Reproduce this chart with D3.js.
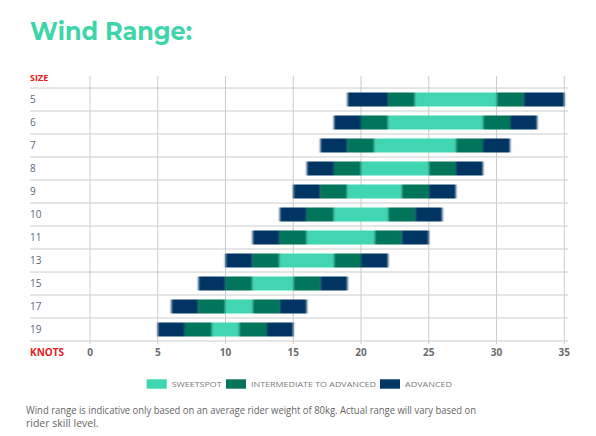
<!DOCTYPE html>
<html><head><meta charset="utf-8">
<script src="https://cdn.jsdelivr.net/npm/d3@7"></script>
<style>
body{margin:0;background:#fff;}
svg{display:block;font-family:"Open Sans",sans-serif;}
</style></head>
<body>
<svg id="c" width="596" height="436"></svg>
<script>
const sizes = ["5","6","7","8","9","10","11","13","15","17","19"];
// knot boundaries: advanced start, intermediate start, sweetspot start, sweetspot end, intermediate end, advanced end
const advStart  = [19,18,17,16,15,14,12,10, 8, 6, 5];
const intStart  = [22,20,19,18,17,16,14,12,10, 8, 7];
const sweetStart= [24,22,21,20,19,18,16,14,12,10, 9];
const sweetEnd  = [30,29,27,25,23,22,21,18,15,12,11];
const intEnd    = [32,31,29,27,25,24,23,20,17,14,13];
const advEnd    = [35,33,31,29,27,26,25,22,19,16,15];
const xTicks = [0,5,10,15,20,25,30,35];
const seriesNames = ["SWEETSPOT","INTERMEDIATE TO ADVANCED","ADVANCED"];
const colors = {"SWEETSPOT":"#3fd6b1","INTERMEDIATE TO ADVANCED":"#02755a","ADVANCED":"#023663"};

const svg = d3.select("#c");
const x = d3.scaleLinear().domain([0,35]).range([90,564.3]);
const y = d3.scaleBand().domain(sizes).range([88,341]).padding(0);

// title
svg.append("text").attr("x",30).attr("y",40).text("Wind Range:")
  .attr("font-family","Montserrat, 'Open Sans', sans-serif").attr("font-weight",700)
  .attr("font-size",25).attr("fill","#3ed5a9").attr("textLength",162).attr("lengthAdjust","spacingAndGlyphs");

// grid
const g = svg.append("g");
g.selectAll("line.v").data(xTicks).join("line")
  .attr("x1",d=>x(d)).attr("x2",d=>x(d)).attr("y1",76).attr("y2",344)
  .attr("stroke","#cccccc").attr("stroke-width",1);
const hLines = [...sizes.map(s=>y(s)), 341];
g.selectAll("line.h").data(hLines).join("line")
  .attr("x1",30).attr("x2",568).attr("y1",d=>d).attr("y2",d=>d)
  .attr("stroke","#cccccc").attr("stroke-width",1);

// filter for soft edges
const defs = svg.append("defs");
defs.append("filter").attr("id","soft").attr("x","-5%").attr("y","-5%").attr("width","110%").attr("height","110%")
  .append("feGaussianBlur").attr("stdDeviation","0.9 0");

// segments
const segs = [];
sizes.forEach((s,i)=>{
  segs.push({s, a:advStart[i], b:intStart[i], k:"ADVANCED"});
  segs.push({s, a:intStart[i], b:sweetStart[i], k:"INTERMEDIATE TO ADVANCED"});
  segs.push({s, a:sweetStart[i], b:sweetEnd[i], k:"SWEETSPOT"});
  segs.push({s, a:sweetEnd[i], b:intEnd[i], k:"INTERMEDIATE TO ADVANCED"});
  segs.push({s, a:intEnd[i], b:advEnd[i], k:"ADVANCED"});
});
const bh = 14;
svg.append("g").attr("filter","url(#soft)").selectAll("rect").data(segs).join("rect")
  .attr("x",d=>x(d.a)).attr("width",d=>x(d.b)-x(d.a))
  .attr("y",d=>y(d.s)+y.bandwidth()/2-bh/2).attr("height",bh)
  .attr("fill",d=>colors[d.k]);

// row labels
svg.append("text").attr("x",30).attr("y",81).text("SIZE")
  .attr("font-size",9).attr("font-weight",700).attr("fill","#e3201b");
svg.selectAll("text.row").data(sizes).join("text").attr("class","row")
  .attr("x",30).attr("y",d=>y(d)+y.bandwidth()/2).attr("dy","0.35em")
  .attr("font-size",10).attr("fill","#5d6878").text(d=>d);

// x axis labels
svg.append("text").attr("x",30).attr("y",352).attr("dy","0.35em").text("KNOTS")
  .attr("font-size",10).attr("font-weight",700).attr("fill","#e3201b");
svg.selectAll("text.tick").data(xTicks).join("text").attr("class","tick")
  .attr("x",d=>x(d)).attr("y",352).attr("dy","0.35em").attr("text-anchor","middle")
  .attr("font-size",10).attr("font-weight",700).attr("fill","#6b6b6b").text(d=>d);

// legend
const legX = [146.7, 226, 380];
const legTextW = [50, 125, 47];
const legend = svg.append("g");
seriesNames.forEach((n,i)=>{
  legend.append("rect").attr("x",legX[i]).attr("y",379.3).attr("width",20).attr("height",9.4).attr("fill",colors[n]);
  legend.append("text").attr("x",legX[i]+25).attr("y",384).attr("dy","0.35em")
    .attr("font-size",8).attr("fill","#7a7a7a").attr("textLength",legTextW[i]).attr("lengthAdjust","spacingAndGlyphs").text(n);
});

// footnote
svg.append("text").attr("x",26).attr("y",410).attr("dy","0.35em").attr("font-size",10.5).attr("fill","#666")
  .attr("textLength",450).attr("lengthAdjust","spacingAndGlyphs")
  .text("Wind range is indicative only based on an average rider weight of 80kg. Actual range will vary based on");
svg.append("text").attr("x",26).attr("y",423).attr("dy","0.35em").attr("font-size",10.5).attr("fill","#666")
  .text("rider skill level.");
</script>
</body></html>
